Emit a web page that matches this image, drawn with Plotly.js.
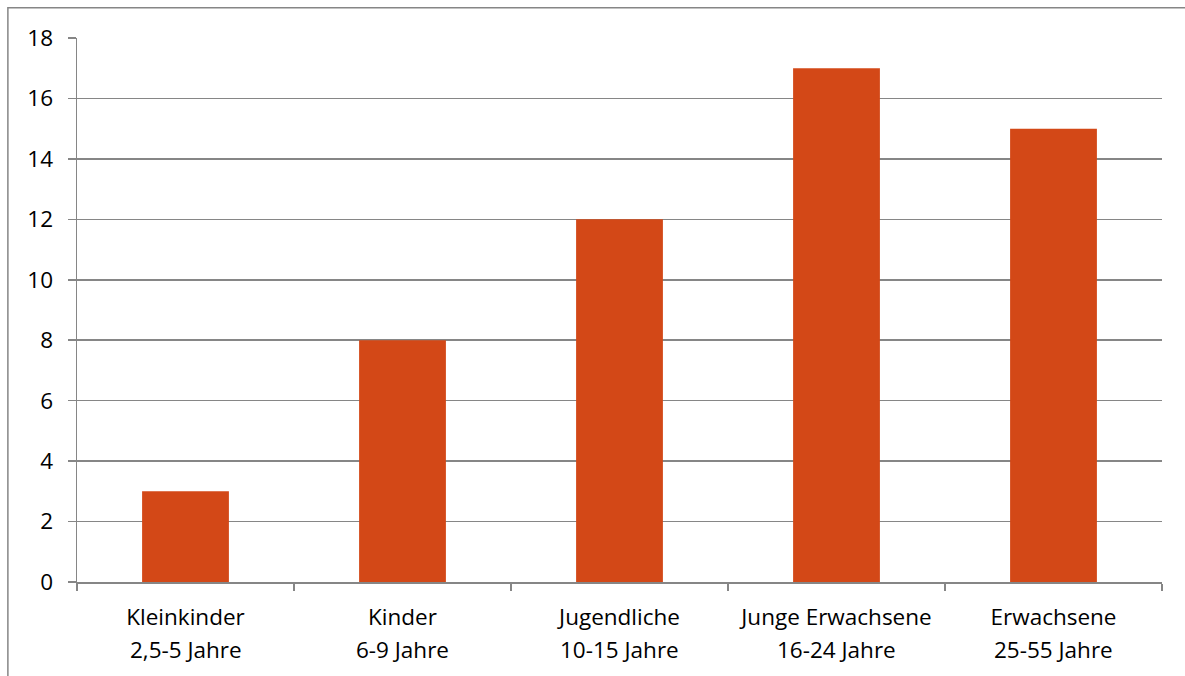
<!DOCTYPE html>
<html>
<head>
<meta charset="utf-8">
<script src="https://cdn.plot.ly/plotly-3.0.1.min.js"></script>
<style>
html,body{margin:0;padding:0;background:#fff;}
#chart{width:1185px;height:676px;}
</style>
</head>
<body>
<div id="chart"></div>
<script>
const categories = ["Kleinkinder", "Kinder", "Jugendliche", "Junge Erwachsene", "Erwachsene"];
const ageRanges = ["2,5-5 Jahre", "6-9 Jahre", "10-15 Jahre", "16-24 Jahre", "25-55 Jahre"];
const values = [3, 8, 12, 17, 15];
const yTicks = [0, 2, 4, 6, 8, 10, 12, 14, 16, 18];

const trace = {
  type: "bar",
  x: categories,
  y: values,
  marker: {color: "#D34817", line: {width: 0}},
  hoverinfo: "none"
};

const gray = "#868686";
const fontSize = 22.5;
const layout = {
  width: 1185,
  height: 676,
  margin: {l: 76.5, r: 23, t: 37.5, b: 93.5},
  paper_bgcolor: "#ffffff",
  plot_bgcolor: "#ffffff",
  showlegend: false,
  bargap: 0.6,
  font: {family: "Open Sans, sans-serif", size: fontSize, color: "#000000"},
  xaxis: {
    type: "category",
    showgrid: false,
    showline: true,
    linecolor: gray,
    linewidth: 1.5,
    ticks: "outside",
    tickson: "boundaries",
    ticklen: 7,
    tickcolor: gray,
    tickwidth: 1.5,
    tickfont: {size: fontSize},
    ticklabelstandoff: 14,
    fixedrange: true
  },
  yaxis: {
    range: [0, 18],
    tickvals: yTicks,
    ticktext: yTicks.map(String),
    showgrid: true,
    gridcolor: gray,
    gridwidth: 1.5,
    zeroline: false,
    showline: true,
    linecolor: gray,
    linewidth: 1.5,
    ticks: "outside",
    ticklen: 8,
    tickcolor: gray,
    tickwidth: 1.5,
    tickfont: {size: fontSize},
    ticklabelstandoff: 10,
    fixedrange: true
  },
  annotations: categories.map((c, i) => ({
    x: c,
    xref: "x",
    y: -0.1239,
    yref: "paper",
    yanchor: "middle",
    xanchor: "center",
    text: ageRanges[i],
    showarrow: false,
    font: {size: fontSize, color: "#000000"}
  })),
  shapes: [{
    type: "rect",
    xref: "paper", yref: "paper",
    x0: -0.0637, x1: 1.05, y0: -0.25, y1: 1.0554,
    line: {color: gray, width: 1.5},
    fillcolor: "rgba(0,0,0,0)",
    layer: "below"
  }]
};

Plotly.newPlot("chart", [trace], layout, {displayModeBar: false, staticPlot: true});
</script>
</body>
</html>
